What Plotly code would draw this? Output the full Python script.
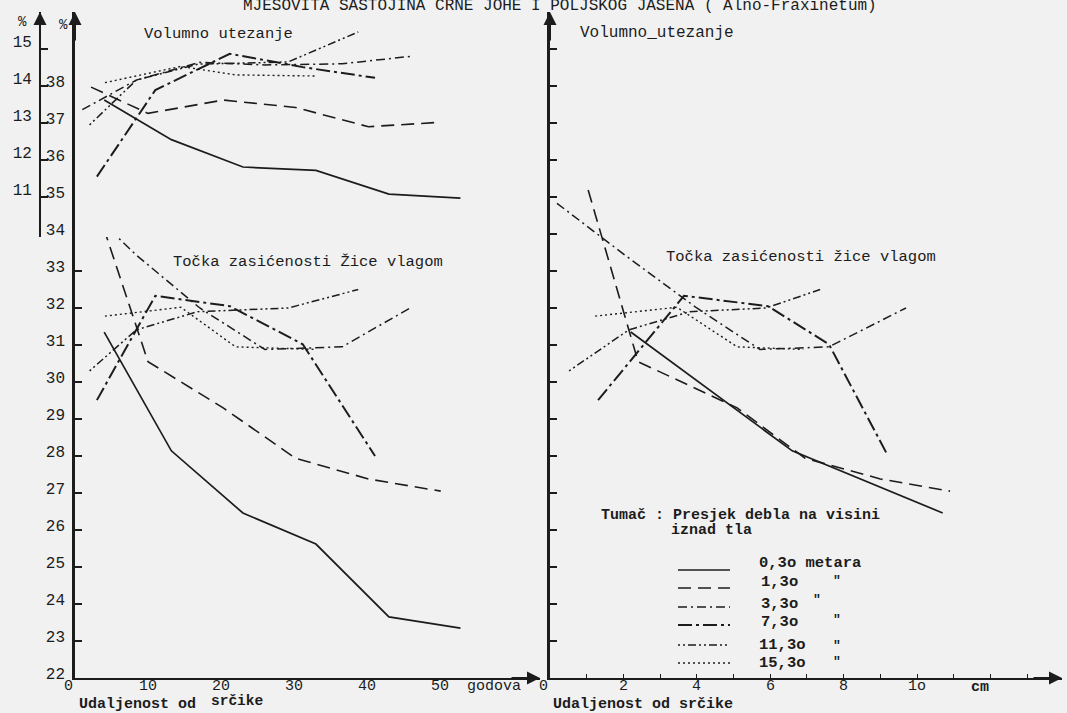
import plotly.graph_objects as go

# ---------------- data ----------------
HEIGHT_LABELS = ["0,3o", "1,3o", "3,3o", "7,3o", "11,3o", "15,3o"]

# distance from the pith in growth rings (left panel)
RINGS_03 = [4.0, 13.2, 23.0, 33.0, 43.0, 52.8]
RINGS_13 = [2.2, 10.0, 20.3, 30.2, 40.2, 50.1]
RINGS_33 = [1.0, 8.4, 17.1, 26.0, 36.6, 45.9]
RINGS_73 = [3.0, 11.0, 21.2, 31.2, 41.1]
RINGS_113 = [2.0, 8.4, 16.8, 29.2, 38.8]
RINGS_153 = [4.1, 14.5, 22.0, 33.0]

# distance from the pith in cm (right panel)
CM_03 = [2.2, 6.6, 10.7]
CM_13 = [1.04, 2.4, 5.1, 6.95, 9.0, 10.9]
CM_33 = [0.19, 2.04, 4.0, 5.72, 7.6, 9.7]
CM_73 = [1.31, 3.65, 5.94, 7.6, 9.21]
CM_113 = [0.52, 2.15, 3.81, 5.89, 7.36]
CM_153 = [1.23, 3.46, 5.1, 6.9]

# volumetric shrinkage (Volumno utezanje), %
VOL_03 = [13.62, 12.55, 11.81, 11.72, 11.08, 10.97]
VOL_13 = [13.97, 13.26, 13.62, 13.42, 12.90, 13.02]
VOL_33 = [13.36, 14.16, 14.64, 14.57, 14.60, 14.80]
VOL_73 = [11.55, 13.89, 14.87, 14.51, 14.22]
VOL_113 = [12.95, 14.16, 14.59, 14.65, 15.46]
VOL_153 = [14.09, 14.53, 14.30, 14.27]

# fibre saturation point (Tocka zasicenosti zice vlagom), %
FSP_03 = [31.35, 28.14, 26.46, 25.62, 23.65, 23.35]
FSP_13 = [35.19, 30.55, 29.30, 27.94, 27.38, 27.05]
FSP_33 = [34.83, 33.43, 32.00, 30.88, 30.95, 32.00]
FSP_73 = [29.51, 32.33, 32.05, 31.02, 28.00]
FSP_113 = [30.30, 31.41, 31.90, 32.00, 32.50]
FSP_153 = [31.78, 32.02, 30.95, 30.88]

Y_TICKS = list(range(22, 40))
Y_TICK_TEXT = [str(v) for v in range(22, 39)] + [""]
VOL_TICKS = [11, 12, 13, 14, 15]
RING_TICKS = [0, 10, 20, 30, 40, 50]
RING_TICK_TEXT = ["0", "10", "20", "30", "40", "50"]
CM_TICKS = [0, 2, 4, 6, 8, 10]
CM_TICK_TEXT = ["0", "2", "4", "6", "8", "1o"]

SERIES = [
    ("0,3o", RINGS_03, CM_03, VOL_03, FSP_03),
    ("1,3o", RINGS_13, CM_13, VOL_13, FSP_13),
    ("3,3o", RINGS_33, CM_33, VOL_33, FSP_33),
    ("7,3o", RINGS_73, CM_73, VOL_73, FSP_73),
    ("11,3o", RINGS_113, CM_113, VOL_113, FSP_113),
    ("15,3o", RINGS_153, CM_153, VOL_153, FSP_153),
]

# ---------------- styling / geometry ----------------
W, H = 1067, 713
INK = "#1c1c1c"
BG = "#f1f1f1"
FONT = "Liberation Mono"

STYLE = {
    "0,3o": dict(dash="solid", width=1.7),
    "1,3o": dict(dash="13px,7px", width=1.6),
    "3,3o": dict(dash="9px,4px,2px,4px", width=1.5),
    "7,3o": dict(dash="14px,4px,3px,4px", width=2.0),
    "11,3o": dict(dash="2px,3px,2px,3px,8px,3px", width=1.5),
    "15,3o": dict(dash="2px,3px", width=1.4),
}


def fx(px):
    return px / W


def fy(py):
    return 1 - py / H


Y0_PX, YTOP_PX, PX_PER_PCT = 678, 12, 37.0
Y_MIN = 22
Y_MAX = Y_MIN + (Y0_PX - YTOP_PX) / PX_PER_PCT
VOL_OFFSET = 24  # 11 % shrinkage is drawn level with 35 %
VOL_BOT_PX = 237
VOL_MIN = Y_MIN + (Y0_PX - VOL_BOT_PX) / PX_PER_PCT - VOL_OFFSET
VOL_MAX = Y_MAX - VOL_OFFSET

XL0, XL1, PX_PER_RING = 75, 540, 7.3
XR0, XR1, PX_PER_CM = 550, 1062, 36.7
RING_MAX = (XL1 - XL0) / PX_PER_RING
CM_MAX = (XR1 - XR0) / PX_PER_CM

fig = go.Figure()

for name, rings, cm, vol, fsp in SERIES:
    st = STYLE[name]
    line = dict(color=INK, width=st["width"], dash=st["dash"])
    fig.add_trace(go.Scatter(x=rings, y=fsp, mode="lines", line=line,
                             xaxis="x", yaxis="y", showlegend=False, name=name))
    fig.add_trace(go.Scatter(x=rings, y=vol, mode="lines", line=line,
                             xaxis="x", yaxis="y2", showlegend=False, name=name))
    n = len(cm)
    fig.add_trace(go.Scatter(x=cm, y=fsp[:n], mode="lines", line=line,
                             xaxis="x2", yaxis="y3", showlegend=False, name=name))
    fig.add_trace(go.Scatter(x=cm, y=vol[:n], mode="lines", line=line,
                             xaxis="x2", yaxis="y2", showlegend=False, name=name))

tickfont = dict(family=FONT, size=16, color=INK)
common = dict(showgrid=False, zeroline=False, showline=True, linecolor=INK, automargin=False)

fig.update_layout(
    width=W, height=H,
    margin=dict(l=0, r=0, t=0, b=0, pad=0),
    paper_bgcolor=BG, plot_bgcolor=BG,
    showlegend=False,
    xaxis=dict(domain=[fx(XL0), fx(XL1)], range=[0, RING_MAX], anchor="y", linewidth=2.2,
               ticks="", tickvals=RING_TICKS, showticklabels=False, **common),
    yaxis=dict(domain=[fy(Y0_PX), fy(YTOP_PX)], range=[Y_MIN, Y_MAX], anchor="x", linewidth=2.5,
               ticks="inside", ticklen=7, tickwidth=1.5, tickcolor=INK,
               tickvals=Y_TICKS, ticktext=Y_TICK_TEXT, tickfont=tickfont,
               ticklabelstandoff=4, ticklabelshift=-5, **common),
    yaxis2=dict(domain=[fy(VOL_BOT_PX), fy(YTOP_PX)], range=[VOL_MIN, VOL_MAX],
                anchor="free", position=fx(40), side="left", linewidth=1.8,
                ticks="inside", ticklen=7, tickwidth=1.5, tickcolor=INK,
                tickvals=VOL_TICKS, ticktext=[str(v) for v in VOL_TICKS], tickfont=tickfont,
                ticklabelstandoff=4, ticklabelshift=-8, **common),
    xaxis2=dict(domain=[fx(XR0), fx(XR1)], range=[0, CM_MAX], anchor="y3", linewidth=2.2,
                ticks="inside", ticklen=4, tickwidth=1.3, tickcolor=INK,
                tickvals=CM_TICKS, showticklabels=False,
                minor=dict(dtick=1, ticks="inside", ticklen=4, tickwidth=1.3, tickcolor=INK),
                **common),
    yaxis3=dict(domain=[fy(Y0_PX), fy(YTOP_PX)], range=[Y_MIN, Y_MAX], anchor="x2", linewidth=2.5,
                ticks="inside", ticklen=7, tickwidth=1.5, tickcolor=INK,
                tickvals=Y_TICKS, showticklabels=False, **common),
)

ann = []


def text(x_px, y_px, s, size=15.5, anchor="center", bold=False):
    ann.append(dict(x=fx(x_px), y=fy(y_px), xref="paper", yref="paper", text=s,
                    showarrow=False, xanchor=anchor, yanchor="middle",
                    font=dict(family=FONT, size=size, color=INK,
                              weight="bold" if bold else "normal")))


def arrow(x, y, xref, yref, ax, ay):
    ann.append(dict(x=x, y=y, xref=xref, yref=yref, ax=ax, ay=ay, text="",
                    showarrow=True, arrowhead=2, arrowsize=1.3, arrowwidth=2,
                    arrowcolor=INK, standoff=0))


# x tick labels (placed on the data scale, just under each axis)
for v, t in zip(RING_TICKS, RING_TICK_TEXT):
    ann.append(dict(x=v, xref="x", y=fy(686), yref="paper", text=t, showarrow=False,
                    xanchor="right" if v == 0 else "center", yanchor="middle",
                    font=dict(family=FONT, size=15, color=INK)))
for v, t in zip(CM_TICKS, CM_TICK_TEXT):
    ann.append(dict(x=v, xref="x2", y=fy(686), yref="paper", text=t, showarrow=False,
                    xanchor="right" if v == 0 else "center", yanchor="middle",
                    font=dict(family=FONT, size=15, color=INK)))

# axis arrows
arrow(0, Y_MAX, "x", "y", 0, 30)
arrow(fx(40), VOL_MAX, "paper", "y2", 0, 30)
arrow(0, Y_MAX, "x2", "y3", 0, 30)
arrow(RING_MAX, Y_MIN, "x", "y", -30, 0)
arrow(CM_MAX, Y_MIN, "x2", "y3", -30, 0)

# titles and labels
text(560, 5, "MJEŠOVITA SASTOJINA CRNE JOHE I POLJSKOG JASENA ( Alno-Fraxinetum)", size=16)
text(63, 25, "%", size=14)
text(22, 22, "%", size=14)
text(218, 34, "Volumno utezanje", size=15.5)
text(657, 33, "Volumno_utezanje", size=16)
text(308, 262, "Točka zasićenosti Žice vlagom", size=15.5)
text(801, 257, "Točka zasićenosti žice vlagom", size=15.5)
text(494, 686, "godova", size=15)
text(980, 687, "cm", size=15, bold=True)
text(77, 704, "Udaljenost od", size=15, anchor="left", bold=True)
text(209, 701, "srčike", size=14.5, anchor="left", bold=True)
text(551, 704, "Udaljenost od srčike", size=15, anchor="left", bold=True)

# legend (Tumač)
text(599, 515, "Tumač : Presjek debla na visini", size=15, anchor="left", bold=True)
text(669, 530, "iznad tla", size=15, anchor="left", bold=True)

LEG_Y = [570, 588, 607, 625, 645, 663]
LEG_TEXT_Y = [563, 582, 604, 622, 645, 663]
LEG_TEXT_X = [757, 759, 759, 759, 757, 757]
QUOTE_X = [None, 837, 817, 837, 837, 837]
QUOTE_Y = [None, 580, 599, 619, 645, 661]
shapes = []
for i, name in enumerate(HEIGHT_LABELS):
    st = STYLE[name]
    shapes.append(dict(type="line", xref="paper", yref="paper",
                       x0=fx(678), x1=fx(730), y0=fy(LEG_Y[i]), y1=fy(LEG_Y[i]),
                       line=dict(color=INK, width=st["width"], dash=st["dash"])))
    label = name + (" metara" if i == 0 else "")
    text(LEG_TEXT_X[i], LEG_TEXT_Y[i], label, size=15.5, anchor="left", bold=True)
    if QUOTE_X[i] is not None:
        text(QUOTE_X[i], QUOTE_Y[i], '"', size=13, bold=True)

fig.update_layout(annotations=ann, shapes=shapes)

fig.write_html("out.html")
